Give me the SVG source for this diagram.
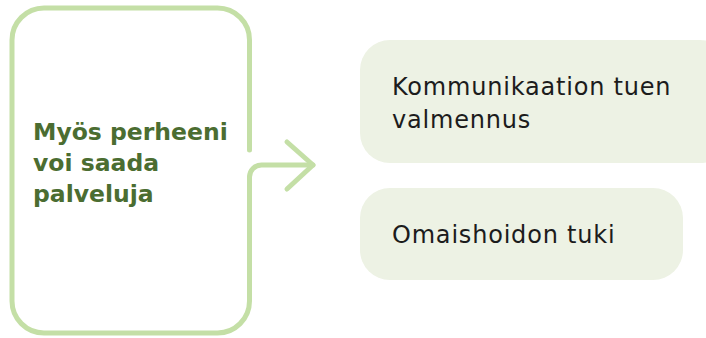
<svg xmlns="http://www.w3.org/2000/svg" width="706" height="338" viewBox="0 0 706 338">
<style>
.frame{fill:none;stroke:#c4dfa6;stroke-width:5;stroke-linecap:round;stroke-linejoin:round}
.card{fill:#edf2e4}
.main{font-family:"DejaVu Sans",sans-serif;font-weight:bold;font-size:23.5px;fill:#4b6d31}
.item{font-family:"DejaVu Sans",sans-serif;font-size:24px;fill:#1c1c1c;letter-spacing:0.8px}
</style>
<rect width="706" height="338" fill="#ffffff"/>
<g id="source">
<path class="frame" d="M249.5,150 V40 A32,32 0 0 0 217.5,8 H44 A32,32 0 0 0 12,40 V301 A32,32 0 0 0 44,333 H217.5 A32,32 0 0 0 249.5,301 V177"/>
<text class="main" x="33" y="140">Myös perheeni</text>
<text class="main" x="33" y="171">voi saada</text>
<text class="main" x="33" y="202">palveluja</text>
</g>
<g id="connectors">
<path class="frame" d="M249.5,177 A12,12 0 0 1 261.5,165 H313"/>
<polyline class="frame" points="287,142 313,165 287,189"/>
</g>
<g id="item1">
<rect class="card" x="360" y="40" width="370" height="123" rx="30"/>
<text class="item" x="392" y="95">Kommunikaation tuen</text>
<text class="item" x="392" y="128">valmennus</text>
</g>
<g id="item2">
<rect class="card" x="360" y="188" width="323" height="92" rx="30"/>
<text class="item" x="392" y="243">Omaishoidon tuki</text>
</g>
</svg>
